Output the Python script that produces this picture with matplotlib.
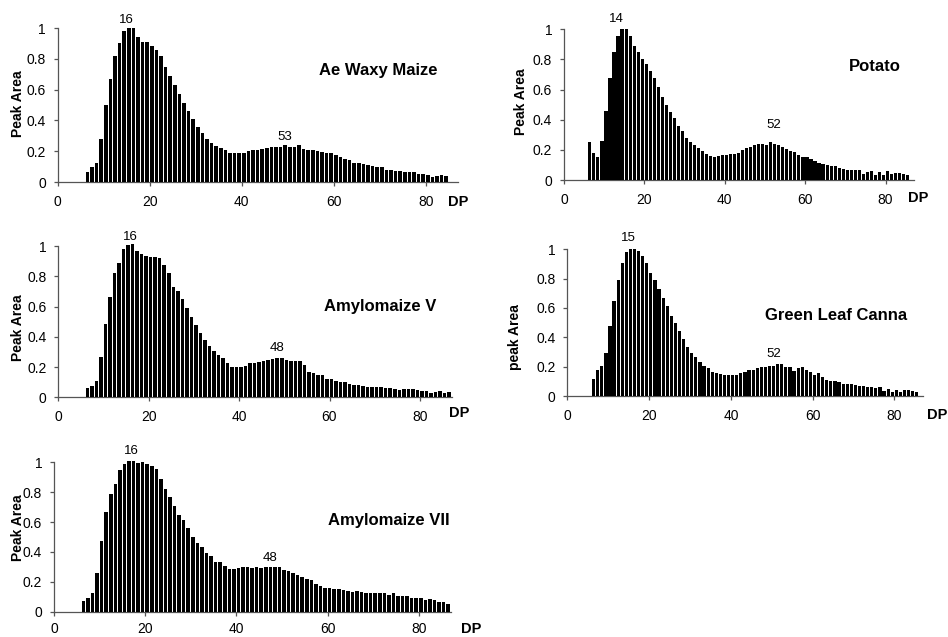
import numpy as np
import matplotlib
matplotlib.use('Agg')
import matplotlib.pyplot as plt

plt.rcParams['font.family'] = ['Liberation Sans', 'DejaVu Sans']

W, H = 948, 637
START_DP = 6

# ---------------- data (relative peak area, DP 6 upwards) ----------------
ae_waxy_maize = [
    0.065, 0.10, 0.125, 0.28, 0.50, 0.67, 0.82, 0.90, 0.98, 1.0,
    1.0, 0.94, 0.91, 0.91, 0.885, 0.86, 0.815, 0.75, 0.69, 0.63,
    0.57, 0.51, 0.46, 0.41, 0.36, 0.32, 0.28, 0.255, 0.235, 0.22,
    0.21, 0.19, 0.19, 0.19,
    0.19, 0.20, 0.21, 0.21, 0.215, 0.22, 0.23, 0.23, 0.23, 0.24,
    0.225, 0.225, 0.24, 0.215, 0.21, 0.21, 0.20, 0.195, 0.19, 0.19,
    0.175, 0.16, 0.15, 0.145, 0.125, 0.125, 0.115, 0.11, 0.105, 0.10,
    0.10, 0.075, 0.08, 0.07, 0.07, 0.065, 0.063, 0.065, 0.055, 0.05,
    0.045, 0.035, 0.04, 0.045, 0.037]

potato = [
    0.25, 0.18, 0.15, 0.26, 0.46, 0.68, 0.85, 0.955, 1.0, 1.0,
    0.955, 0.89, 0.85, 0.80, 0.77, 0.72, 0.68, 0.615, 0.55, 0.50,
    0.45, 0.41, 0.36, 0.325, 0.28, 0.255, 0.235, 0.21, 0.19, 0.17,
    0.16, 0.15, 0.16, 0.165,
    0.165, 0.17, 0.175, 0.18, 0.20, 0.21, 0.22, 0.23, 0.24, 0.24,
    0.235, 0.25, 0.24, 0.23, 0.22, 0.205, 0.195, 0.185, 0.165, 0.155,
    0.15, 0.14, 0.125, 0.11, 0.105, 0.10, 0.095, 0.09, 0.08, 0.075,
    0.065, 0.065, 0.065, 0.065, 0.04, 0.05, 0.058, 0.035, 0.055, 0.03,
    0.06, 0.04, 0.047, 0.047, 0.04, 0.035]

amylomaize_v = [
    0.06, 0.077, 0.11, 0.265, 0.485, 0.665, 0.82, 0.89, 0.98, 1.005,
    1.015, 0.97, 0.95, 0.935, 0.93, 0.93, 0.92, 0.875, 0.82, 0.73,
    0.70, 0.65, 0.59, 0.53, 0.475, 0.425, 0.38, 0.34, 0.305, 0.28,
    0.26, 0.23, 0.20, 0.20,
    0.20, 0.205, 0.23, 0.225, 0.235, 0.24, 0.245, 0.25, 0.26, 0.258,
    0.245, 0.24, 0.24, 0.24, 0.215, 0.17, 0.16, 0.15, 0.145, 0.12,
    0.12, 0.108, 0.10, 0.10, 0.085, 0.08, 0.08, 0.077, 0.07, 0.07,
    0.066, 0.066, 0.06, 0.06, 0.055, 0.05, 0.053, 0.053, 0.053, 0.048,
    0.044, 0.044, 0.031, 0.037, 0.042, 0.031, 0.035]

green_leaf_canna = [
    0.115, 0.18, 0.205, 0.29, 0.475, 0.645, 0.79, 0.91, 0.98, 1.005,
    1.0, 0.99, 0.955, 0.905, 0.84, 0.79, 0.73, 0.665, 0.615, 0.545,
    0.495, 0.445, 0.39, 0.335, 0.29, 0.265, 0.235, 0.205, 0.19, 0.165,
    0.16, 0.15, 0.145, 0.145,
    0.145, 0.14, 0.155, 0.165, 0.175, 0.18, 0.19, 0.20, 0.20, 0.205,
    0.205, 0.22, 0.215, 0.20, 0.20, 0.17, 0.19, 0.20, 0.175, 0.165,
    0.145, 0.155, 0.13, 0.11, 0.105, 0.10, 0.093, 0.085, 0.08, 0.08,
    0.075, 0.07, 0.07, 0.064, 0.064, 0.052, 0.06, 0.036, 0.048, 0.025,
    0.04, 0.03, 0.04, 0.04, 0.036, 0.025]

amylomaize_vii = [
    0.07, 0.094, 0.127, 0.26, 0.47, 0.665, 0.785, 0.855, 0.95, 0.99,
    1.01, 1.01, 0.995, 1.0, 0.99, 0.975, 0.955, 0.89, 0.82, 0.765,
    0.71, 0.65, 0.615, 0.56, 0.50, 0.46, 0.43, 0.395, 0.37, 0.335,
    0.33, 0.305, 0.285, 0.285,
    0.29, 0.30, 0.30, 0.295, 0.30, 0.29, 0.30, 0.30, 0.30, 0.30,
    0.28, 0.27, 0.26, 0.245, 0.235, 0.22, 0.21, 0.185, 0.17, 0.16,
    0.16, 0.15, 0.15, 0.145, 0.14, 0.135, 0.14, 0.135, 0.127, 0.127,
    0.123, 0.123, 0.123, 0.11, 0.123, 0.107, 0.107, 0.107, 0.094, 0.09,
    0.094, 0.078, 0.085, 0.078, 0.062, 0.067, 0.05]

series = [ae_waxy_maize, potato, amylomaize_v, green_leaf_canna, amylomaize_vii]
names = ["Ae Waxy Maize", "Potato", "Amylomaize V", "Green Leaf Canna", "Amylomaize VII"]
ylabels = ["Peak Area", "Peak Area", "Peak Area", "peak Area", "Peak Area"]
peak_labels = [("16", "53"), ("14", "52"), ("16", "48"), ("15", "52"), ("16", "48")]
x_ticks = [0, 20, 40, 60, 80]
y_ticks = [0, 0.2, 0.4, 0.6, 0.8, 1.0]
y_tick_labels = ["0", "0.2", "0.4", "0.6", "0.8", "1"]
x_unit = "DP"

# ---------------- layout (pixels) ----------------
XMAX = 87
layouts = [
    dict(left=57.7, base=182.0, dx=4.60, h=154.0, ylab=(18, 104), title=(377.8, 70),
         dp=(448, 201.7), p1=(15.0, 1.05), p2=(49.4, 0.294), xpad=6.5),
    dict(left=564.0, base=180.0, dx=4.02, h=150.7, ylab=(520.7, 101.7), title=(874.7, 66.5),
         dp=(908, 198.3), p1=(13.1, 1.066), p2=(52.1, 0.365), xpad=6.5),
    dict(left=58.3, base=397.3, dx=4.52, h=151.3, ylab=(18, 327.5), title=(379.8, 307),
         dp=(449, 413), p1=(15.9, 1.061), p2=(48.3, 0.324), xpad=6.5),
    dict(left=567.3, base=396.0, dx=4.09, h=146.7, ylab=(515, 337), title=(835.7, 315),
         dp=(927, 415), p1=(14.9, 1.075), p2=(50.4, 0.286), xpad=6.5),
    dict(left=54.0, base=611.7, dx=4.56, h=149.4, ylab=(18, 527.5), title=(388.7, 520),
         dp=(461, 629), p1=(17.0, 1.078), p2=(47.4, 0.361), xpad=4.5),
]

AXCOL = '#555555'
fig = plt.figure(figsize=(W / 100, H / 100), dpi=100)

def fx(px):
    return px / W

def fy(py):
    return 1 - py / H

for vals, name, ylab, (l1, l2), L in zip(series, names, ylabels, peak_labels, layouts):
    width_px = XMAX * L['dx']
    ax = fig.add_axes([fx(L['left']), fy(L['base']), width_px / W, L['h'] / H])
    dp = np.arange(START_DP, START_DP + len(vals))
    ax.bar(dp + 0.05, vals, width=0.78, align='edge', color='black', edgecolor='none',
           clip_on=False, zorder=3)
    ax.set_xlim(0, XMAX)
    ax.set_ylim(0, 1)
    for s in ['top', 'right']:
        ax.spines[s].set_visible(False)
    for s in ['left', 'bottom']:
        ax.spines[s].set_color(AXCOL)
        ax.spines[s].set_linewidth(0.9)
    ax.set_xticks(x_ticks)
    ax.set_xticklabels([str(t) for t in x_ticks])
    ax.set_yticks(y_ticks)
    ax.set_yticklabels(y_tick_labels)
    ax.tick_params(axis='both', direction='out', length=3, width=0.9, color=AXCOL,
                   labelsize=10, labelcolor='black')
    ax.tick_params(axis='x', pad=L['xpad'])
    ax.tick_params(axis='y', pad=5.5)
    ax.patch.set_alpha(0)
    # peak annotations
    ax.text(L['p1'][0], L['p1'][1], l1, ha='center', va='center', fontsize=9.5,
            clip_on=False)
    ax.text(L['p2'][0], L['p2'][1], l2, ha='center', va='center', fontsize=9.5,
            clip_on=False)
    # panel title, y label, unit label
    fig.text(fx(L['title'][0]), fy(L['title'][1]), name, ha='center', va='center',
             fontsize=12, fontweight='bold')
    fig.text(fx(L['ylab'][0]), fy(L['ylab'][1]), ylab, ha='center', va='center',
             rotation=90, fontsize=10, fontweight='bold')
    fig.text(fx(L['dp'][0]), fy(L['dp'][1]), x_unit, ha='left', va='center',
             fontsize=10.5, fontweight='bold')

fig.savefig('out.png', dpi=100)
